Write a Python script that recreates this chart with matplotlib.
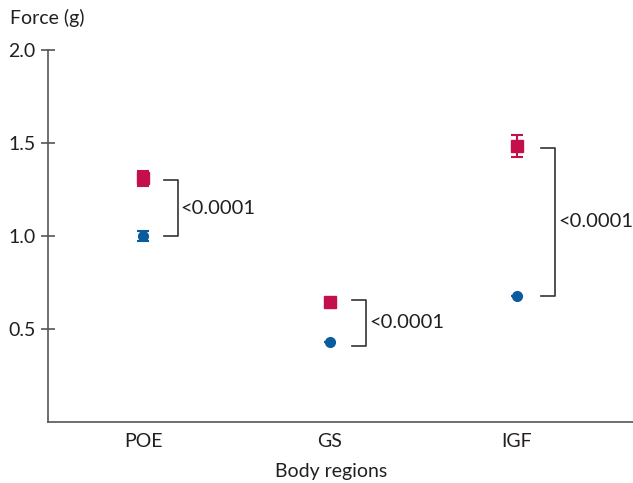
import matplotlib.pyplot as plt
import numpy as np

plt.rcParams['font.family'] = ['Lato', 'DejaVu Sans']

regions = ["POE", "GS", "IGF"]
red_vals = [1.31, 0.645, 1.485]
red_err = [0.04, 0.0, 0.06]
blue_vals = [1.0, 0.43, 0.68]
blue_err = [0.025, 0.0, 0.0]
# bracket (top, bottom) and p-value labels
brackets = [(1.30, 1.0), (0.655, 0.41), (1.475, 0.68)]
p_labels = ["<0.0001", "<0.0001", "<0.0001"]

red = "#C4104A"
blue = "#0B5C9E"
axc = "#555555"
txc = "#231F20"

fig = plt.figure(figsize=(6.33, 4.83), dpi=100)
ax = fig.add_axes([48 / 633, 61 / 483, 585 / 633, 372 / 483])

x = np.arange(len(regions))
ax.errorbar(x, red_vals, yerr=red_err, fmt="s", color=red, ms=8,
            capsize=4, elinewidth=1.5, capthick=1.5, zorder=3)
ax.errorbar(x, blue_vals, yerr=blue_err, fmt="o", color=blue, ms=7,
            capsize=4, elinewidth=1.5, capthick=1.5, zorder=3)

for i, ((top, bot), lab) in enumerate(zip(brackets, p_labels)):
    x0, x1 = i + 0.11 + 0.01 * i, i + 0.185 + 0.01 * i
    ax.plot([x0, x1, x1, x0], [top, top, bot, bot], color="#333333", lw=1.2)
    ax.text(x1 + 0.016, (top + bot) / 2, lab, fontsize=14.5, color=txc,
            va="center", ha="left")

ax.set_xlim(-0.508, 2.62)
ax.set_ylim(0, 2.0)
ax.set_xticks(x)
ax.set_xticklabels(regions)
ax.set_yticks([0.5, 1.0, 1.5, 2.0])
ax.tick_params(axis="x", length=0, labelsize=14, pad=8, colors=txc)
ax.tick_params(axis="y", direction="inout", length=10, width=1.2,
               labelsize=14, colors=txc, color=axc, pad=4)
for s in ["top", "right"]:
    ax.spines[s].set_visible(False)
for s in ["left", "bottom"]:
    ax.spines[s].set_color(axc)
    ax.spines[s].set_linewidth(1.2)

fig.text(10 / 633, 1 - 18 / 483, "Force (g)", fontsize=14, color=txc,
         va="center", ha="left")
fig.text(331 / 633, 1 - 471 / 483, "Body regions", fontsize=14,
         color=txc, va="center", ha="center")

fig.savefig("out.png", dpi=100)
